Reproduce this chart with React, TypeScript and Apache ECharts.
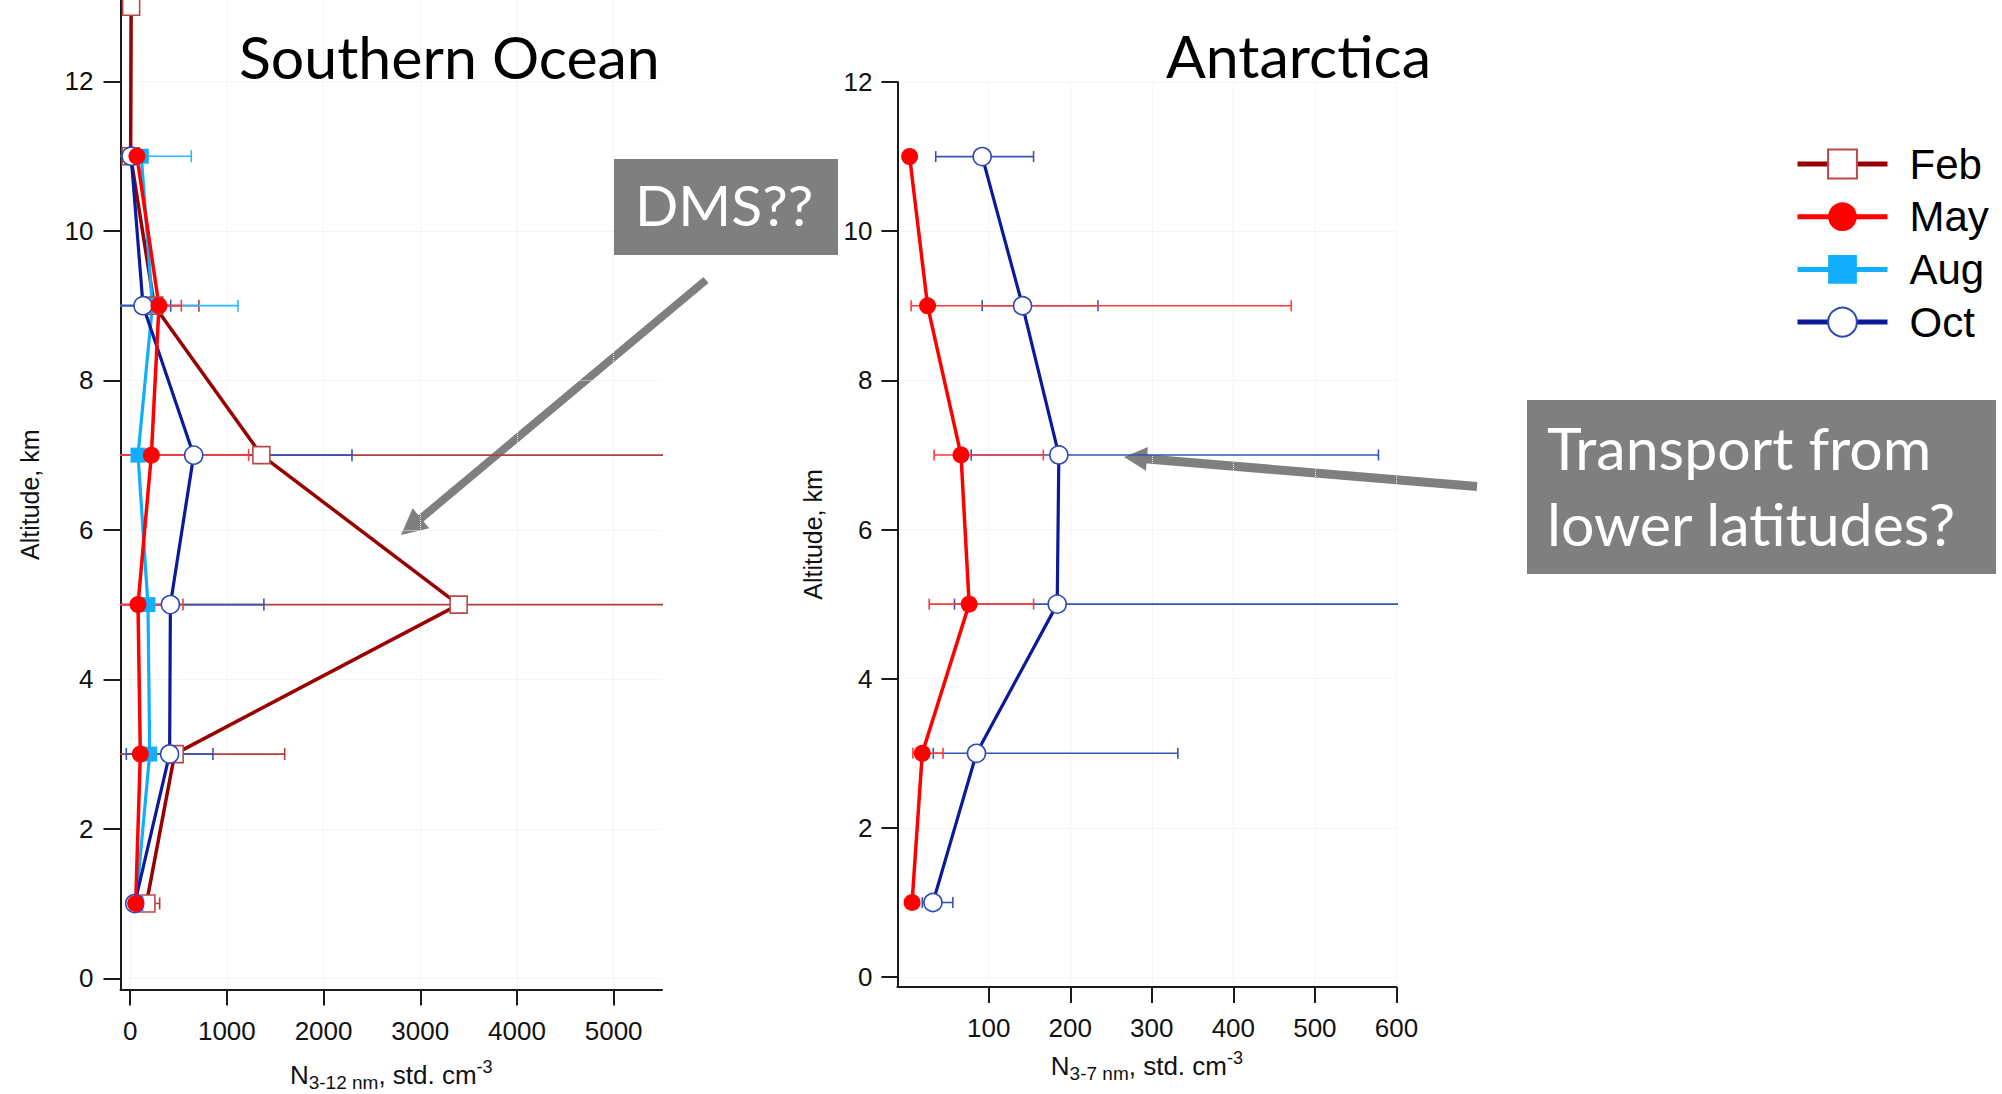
import React, { useEffect, useRef } from 'react';
import * as echarts from 'echarts';

// ---------------- data ----------------
// Southern Ocean (left panel), altitude in km
const altSO = [1, 3, 5, 7, 9, 11];
const altSOFeb = [1, 3, 5, 7, 9, 11, 13];
const febSO = [168, 460, 3397, 1357, 250, 5, 10];
const febSOLow = [31, -680, -200, -2950, -210, -165];
const febSOHigh = [305, 1598, 7000, 5700, 711, 176];
const maySO = [57, 105, 81, 219, 298, 70];
const maySOLow = [30, 70, -385, -787, 67, -10];
const maySOHigh = [85, 140, 547, 1225, 529, 150];
const augSO = [60, 202, 184, 81, 230, 115];
const augSOLow = [35, 165, 150, 55, -655, -402];
const augSOHigh = [85, 240, 218, 107, 1115, 632];
const octSO = [47, 408, 416, 657, 133, 10];
const octSOLow = [20, -40, -551, -980, -153, -156];
const octSOHigh = [74, 856, 1383, 2294, 419, 176];

// Antarctica (right panel)
const altAnt = [1, 3, 5, 7, 9, 11];
const mayAnt = [6, 18.5, 76, 66, 25, 3];
const mayAntLow = [4, 7, 27, 33, 4.8, 1];
const mayAntHigh = [8, 44, 155, 167, 471, 5];
const octAnt = [31.6, 85, 184, 186, 141.5, 92];
const octAntLow = [18.5, 32, 58, 78.5, 92, 35];
const octAntHigh = [56, 332, 700, 578, 234, 155];

// tick labels
const yTicks = [0, 2, 4, 6, 8, 10, 12];
const xTicksSO = [0, 1000, 2000, 3000, 4000, 5000];
const xTicksAnt = [100, 200, 300, 400, 500, 600];
const legendNames = ['Feb', 'May', 'Aug', 'Oct'];

// ---------------- styles ----------------
const C = {
  feb: '#990000', febMark: '#b84848', febErr: '#b03c3c',
  may: '#ff0000', mayErr: '#ff3b3b',
  aug: '#12aefc', augErr: '#2bb8ff',
  oct: '#0a1a99', octMark: '#2c49b8', octErr: '#3553b8',
  axis: '#1a1a1a', grid: '#ebebeb', box: '#7f7f7f',
};
const tickFont = "'Liberation Sans Narrow', 'Arial Narrow', 'Liberation Sans', sans-serif";
const nameFont = "'Liberation Sans', Arial, sans-serif";
const slideFont = "Lato, 'Open Sans', sans-serif";

const pairs = (xs: number[], ys: number[]) => xs.map((x, i) => [x, ys[i]]);
const errRows = (lo: number[], hi: number[], ys: number[]) => lo.map((l, i) => [l, hi[i], ys[i]]);

function errSeries(name: string, xi: number, rows: number[][], color: string, cap: number) {
  return {
    type: 'custom', name: name + ' err', xAxisIndex: xi, yAxisIndex: xi,
    data: rows, encode: { x: [0, 1], y: 2 }, clip: true, z: 1, silent: true,
    renderItem: (params: any, api: any) => {
      const lo = api.value(0), hi = api.value(1), y = api.value(2);
      const p1 = api.coord([lo, y]);
      const p2 = api.coord([hi, y]);
      const st = { stroke: color, lineWidth: 1.6 };
      return {
        type: 'group', children: [
          { type: 'line', shape: { x1: p1[0], y1: p1[1], x2: p2[0], y2: p2[1] }, style: st },
          { type: 'line', shape: { x1: p1[0], y1: p1[1] - cap, x2: p1[0], y2: p1[1] + cap }, style: st },
          { type: 'line', shape: { x1: p2[0], y1: p2[1] - cap, x2: p2[0], y2: p2[1] + cap }, style: st },
        ],
      };
    },
  };
}

function lineSeries(name: string, xi: number, data: number[][], o: any) {
  return {
    type: 'line', name, xAxisIndex: xi, yAxisIndex: xi, data, z: 3,
    symbol: o.symbol, symbolSize: o.size, showAllSymbol: true,
    lineStyle: { color: o.line, width: o.width },
    itemStyle: { color: o.fill, borderColor: o.border, borderWidth: o.bw, opacity: 1 },
    emphasis: { disabled: true },
  };
}

function xAxisCfg(gi: number, min: number, max: number, ticks: number[], nameSub: string, gap: number) {
  return {
    gridIndex: gi, type: 'value', min, max,
    axisLine: { show: true, onZero: false, lineStyle: { color: C.axis, width: 2 } },
    axisTick: { show: true, length: 16, customValues: ticks, lineStyle: { color: C.axis, width: 2 } },
    axisLabel: {
      customValues: ticks, formatter: (v: number) => String(v), margin: 28,
      fontSize: 26, fontFamily: tickFont, color: '#111',
    },
    splitLine: { show: true, lineStyle: { color: C.grid, type: 'dotted', width: 1 } },
    name: `{n|N}{sub|${nameSub}}{n|, std. cm}{sup|-3}`,
    nameLocation: 'middle', nameGap: gap,
    nameTextStyle: {
      rich: {
        n: { fontSize: 26, fontFamily: nameFont, color: '#111', lineHeight: 34 },
        sub: { fontSize: 19, fontFamily: nameFont, color: '#111', lineHeight: 22, verticalAlign: 'bottom' },
        sup: { fontSize: 18, fontFamily: nameFont, color: '#111', lineHeight: 10, verticalAlign: 'top' },
      },
    },
  };
}

function yAxisCfg(gi: number, min: number, max: number, margin: number, tickLen: number, gap: number) {
  return {
    gridIndex: gi, type: 'value', min, max,
    axisLine: { show: true, onZero: false, lineStyle: { color: C.axis, width: 2 } },
    axisTick: { show: true, length: tickLen, customValues: yTicks, lineStyle: { color: C.axis, width: 2 } },
    axisLabel: {
      customValues: yTicks, formatter: (v: number) => String(v), margin,
      fontSize: 26, fontFamily: tickFont, color: '#111',
    },
    splitLine: { show: true, lineStyle: { color: C.grid, type: 'dotted', width: 1 } },
    name: 'Altitude, km', nameLocation: 'middle', nameRotate: 90, nameGap: gap,
    nameTextStyle: { fontSize: 25, fontFamily: nameFont, color: '#111' },
  };
}

function arrow(x1: number, y1: number, x2: number, y2: number, width: number, L: number, W: number) {
  const dx = x2 - x1, dy = y2 - y1;
  const len = Math.sqrt(dx * dx + dy * dy);
  const ux = dx / len, uy = dy / len;
  const bx = x2 - ux * L, by = y2 - uy * L;
  const nx = -uy, ny = ux;
  return [
    { type: 'line', shape: { x1, y1, x2: bx + ux * 2, y2: by + uy * 2 }, style: { stroke: C.box, lineWidth: width } },
    {
      type: 'polygon',
      shape: { points: [[x2, y2], [bx + nx * W, by + ny * W], [bx - nx * W, by - ny * W]] },
      style: { fill: C.box },
    },
  ];
}

export default function App() {
  const ref = useRef<HTMLDivElement>(null);
  useEffect(() => {
    if (!ref.current) return;
    const chart = echarts.init(ref.current, undefined, { renderer: 'svg' });
    const febStyle = { symbol: 'rect', size: 17, line: C.feb, width: 3.5, fill: '#ffffff', border: C.febMark, bw: 1.6 };
    const mayStyle = { symbol: 'circle', size: 17, line: C.may, width: 3.5, fill: C.may, border: C.may, bw: 0 };
    const augStyle = { symbol: 'rect', size: 15, line: C.aug, width: 3.2, fill: C.aug, border: C.aug, bw: 0 };
    const octStyle = { symbol: 'circle', size: 18, line: C.oct, width: 3.2, fill: '#ffffff', border: C.octMark, bw: 1.6 };

    const option: any = {
      animation: false,
      backgroundColor: '#ffffff',
      grid: [
        { left: 120.5, top: 0, width: 541.5, height: 989.5, containLabel: false, outerBoundsMode: 'none' },
        { left: 897.4, top: 82, width: 499, height: 905, containLabel: false, outerBoundsMode: 'none' },
      ],
      xAxis: [
        xAxisCfg(0, -100, 5500, xTicksSO, '3-12 nm', 68),
        xAxisCfg(1, -12, 600, xTicksAnt, '3-7 nm', 62),
      ],
      yAxis: [
        yAxisCfg(0, -0.15, 13.09, 27, 17, 78),
        yAxisCfg(1, -0.133, 12, 25, 16, 72),
      ],
      legend: {
        data: legendNames, orient: 'vertical', left: 1795, top: 141, padding: 0,
        itemWidth: 90, itemHeight: 36, itemGap: 6.7, selectedMode: false,
        lineStyle: { width: 5 },
        textStyle: { fontSize: 42, fontFamily: nameFont, color: '#000', lineHeight: 46, padding: [0, 0, 0, 17] },
      },
      series: [
        errSeries('Feb', 0, errRows(febSOLow, febSOHigh, altSO), C.febErr, 6),
        errSeries('Aug', 0, errRows(augSOLow, augSOHigh, altSO), C.augErr, 6),
        errSeries('Oct', 0, errRows(octSOLow, octSOHigh, altSO), C.octErr, 6),
        errSeries('May', 0, errRows(maySOLow, maySOHigh, altSO), C.mayErr, 6),
        lineSeries('Feb', 0, pairs(febSO, altSOFeb), febStyle),
        lineSeries('Aug', 0, pairs(augSO, altSO), augStyle),
        lineSeries('Oct', 0, pairs(octSO, altSO), octStyle),
        lineSeries('May', 0, pairs(maySO, altSO), mayStyle),
        errSeries('Oct', 1, errRows(octAntLow, octAntHigh, altAnt), C.octErr, 5.5),
        errSeries('May', 1, errRows(mayAntLow, mayAntHigh, altAnt), C.mayErr, 5.5),
        lineSeries('Oct', 1, pairs(octAnt, altAnt), octStyle),
        lineSeries('May', 1, pairs(mayAnt, altAnt), mayStyle),
      ],
      graphic: [
        { type: 'text', left: 239, top: 27, style: { text: 'Southern Ocean', font: `59px ${slideFont}`, fill: '#000' }, z: 10 },
        { type: 'text', left: 1166, top: 26, style: { text: 'Antarctica', font: `59px ${slideFont}`, fill: '#000' }, z: 10 },
        { type: 'rect', shape: { x: 614, y: 159, width: 224, height: 96 }, style: { fill: C.box }, z: 10 },
        { type: 'text', left: 635, top: 175, style: { text: 'DMS??', font: `57px ${slideFont}`, fill: '#ffffff' }, z: 11 },
        { type: 'rect', shape: { x: 1527, y: 400, width: 469, height: 174 }, style: { fill: C.box }, z: 10 },
        { type: 'text', left: 1547, top: 418, style: { text: 'Transport from', font: `59px ${slideFont}`, fill: '#ffffff' }, z: 11 },
        { type: 'text', left: 1547, top: 494, style: { text: 'lower latitudes?', font: `59px ${slideFont}`, fill: '#ffffff' }, z: 11 },
        { type: 'group', z: 10, children: arrow(706, 280, 401, 535, 8, 26, 13) },
        { type: 'group', z: 10, children: arrow(1477, 486.5, 1124, 457, 9, 23, 12) },
      ],
    };
    chart.setOption(option);
    return () => chart.dispose();
  }, []);
  return <div ref={ref} style={{ position: 'fixed', left: 0, top: 0, width: 2002, height: 1094, background: '#fff' }} />;
}
